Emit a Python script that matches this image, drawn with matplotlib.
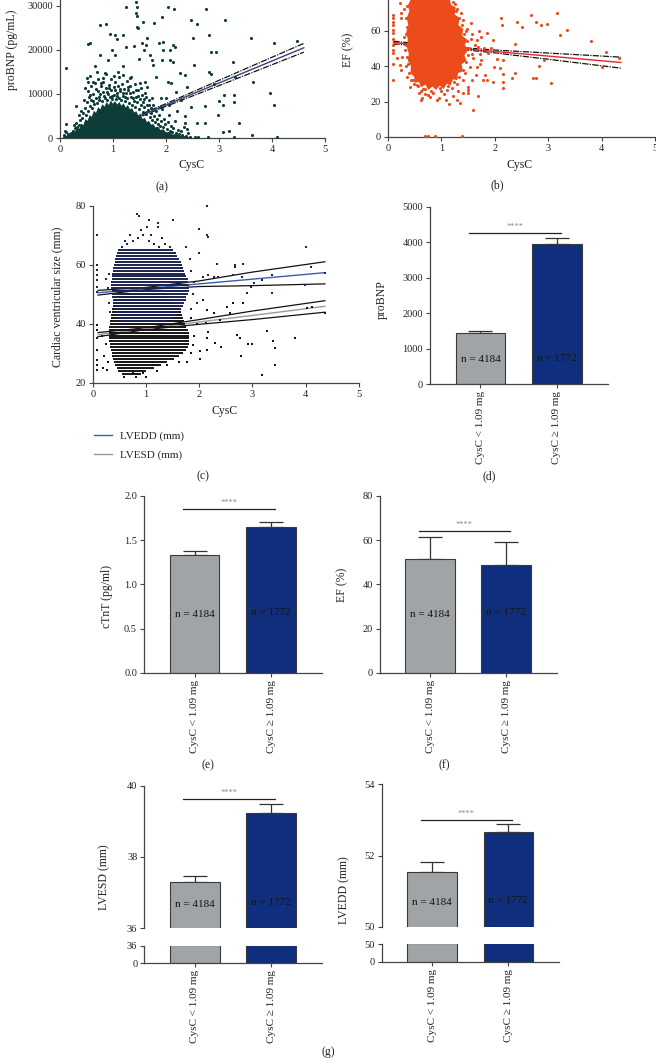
import numpy as np
import matplotlib.pyplot as plt
from matplotlib.lines import Line2D

# ---------------- data ----------------
# (a) proBNP vs CysC : ragged outline of the solid core + scattered points
a_core = [(0.05, 0), (0.08, 700), (0.12, 400), (0.16, 1200), (0.20, 800), (0.24, 1700),
          (0.28, 1300), (0.32, 2400), (0.36, 2000), (0.40, 3300), (0.44, 2900), (0.48, 4300),
          (0.52, 3900), (0.56, 5200), (0.60, 4800), (0.64, 6200), (0.68, 5700), (0.72, 7000),
          (0.76, 6500), (0.80, 7700), (0.84, 7100), (0.88, 8200), (0.92, 7500), (0.96, 8500),
          (1.00, 7800), (1.04, 8400), (1.08, 7600), (1.12, 8200), (1.16, 7300), (1.20, 7900),
          (1.24, 6900), (1.28, 7500), (1.32, 6500), (1.36, 6800), (1.40, 5800), (1.44, 6100),
          (1.48, 5000), (1.52, 5300), (1.56, 4300), (1.60, 4600), (1.64, 3600), (1.68, 3900),
          (1.72, 3000), (1.76, 3200), (1.80, 2400), (1.85, 2600), (1.90, 1800), (1.95, 2000),
          (2.00, 1300), (2.06, 1400), (2.12, 800), (2.20, 900), (2.28, 400), (2.36, 450),
          (2.45, 100), (2.50, 0)]
a_mid = [(0.42, 4500), (0.44, 5600), (0.47, 6900), (0.49, 5300), (0.51, 8100), (0.53, 6200),
         (0.54, 9400), (0.56, 7300), (0.58, 11800), (0.59, 8600), (0.61, 6900), (0.62, 10100),
         (0.64, 7700), (0.66, 12600), (0.67, 9200), (0.69, 8000), (0.71, 10700), (0.72, 13500),
         (0.74, 8600), (0.76, 9900), (0.77, 11900), (0.79, 8300), (0.81, 10400), (0.82, 12800),
         (0.84, 9100), (0.86, 11300), (0.87, 14600), (0.89, 8700), (0.91, 10000), (0.92, 12100),
         (0.94, 9300), (0.96, 13300), (0.97, 10800), (0.99, 8900), (1.01, 11600), (1.02, 9700),
         (1.04, 12700), (1.06, 8800), (1.07, 10300), (1.09, 11900), (1.11, 9200), (1.12, 13800),
         (1.14, 10600), (1.16, 8600), (1.17, 12300), (1.19, 9600), (1.21, 11100), (1.22, 8300),
         (1.24, 10200), (1.26, 12900), (1.27, 9000), (1.29, 10900), (1.31, 8000), (1.32, 11800),
         (1.34, 9300), (1.36, 7600), (1.37, 10500), (1.39, 8500), (1.41, 12200), (1.42, 7000),
         (1.44, 9400), (1.46, 8100), (1.47, 10800), (1.49, 6600), (1.51, 8900), (1.52, 7400),
         (1.54, 9800), (1.56, 6000), (1.57, 8200), (1.59, 7000), (1.61, 10200), (1.62, 5400),
         (1.64, 7600), (1.66, 6300), (1.67, 8700), (1.69, 4800), (1.71, 6800), (1.72, 5600),
         (1.74, 4200), (1.76, 7400), (1.78, 5000), (1.79, 3700), (1.81, 6100), (1.83, 4300),
         (1.85, 3100), (1.87, 5200), (1.88, 2700), (1.90, 3800), (1.92, 6600), (1.94, 2400),
         (1.96, 4400), (1.98, 3100), (2.01, 2000), (2.03, 3600), (2.05, 5300), (2.07, 1700),
         (2.09, 2800), (2.12, 1400), (2.14, 2300), (2.17, 3900), (2.19, 1100), (2.22, 1900),
         (2.25, 800), (2.28, 1500), (2.31, 600), (2.34, 2600), (2.37, 400), (2.42, 1100),
         (2.46, 300), (0.35, 3000), (0.38, 4100), (0.33, 2600), (0.28, 2200), (0.24, 1700),
         (0.20, 1200), (0.45, 8700), (0.52, 10600), (0.57, 9800), (0.63, 8400), (0.68, 11200),
         (0.73, 9400), (0.78, 12400), (0.83, 9600), (0.88, 10500), (0.93, 11400), (0.98, 9500),
         (1.03, 10800), (1.08, 9500), (1.13, 11200), (1.18, 10300), (1.23, 9400), (1.28, 11700),
         (1.33, 10200), (1.38, 9100), (1.43, 10900), (1.48, 9600), (1.53, 11400), (1.58, 8900),
         (1.63, 9300), (1.68, 7500), (1.73, 9000), (1.33, 13600), (1.18, 14400), (1.02, 14000),
         (0.82, 13700), (0.62, 12800), (0.48, 11300), (0.70, 14900), (1.50, 12600), (1.65, 11700),
         (1.90, 9000), (2.05, 7600), (2.20, 6100), (2.35, 5000), (0.40, 6200), (0.36, 5200),
         (0.31, 3400), (0.26, 2900), (0.15, 900), (0.12, 1400), (2.40, 2000), (2.55, 300)]
a_out = [(0.11, 15800), (0.11, 3200), (0.30, 7300), (0.57, 21600), (0.50, 13700), (0.75, 25600),
         (0.86, 26000), (0.94, 23700), (1.04, 23500), (1.08, 22600), (1.18, 23400), (1.25, 29800),
         (1.43, 31000), (1.46, 29800), (1.43, 28300), (1.46, 27700), (1.45, 25300), (1.48, 24900),
         (1.56, 26400), (1.64, 22800), (1.58, 20000), (1.62, 21100), (1.77, 26200), (1.92, 27500),
         (1.94, 21900), (2.03, 29800), (2.15, 29400), (2.08, 20100), (2.17, 20700), (2.14, 17300),
         (1.93, 17700), (1.73, 17700), (2.48, 26800), (2.50, 22800), (2.58, 25800), (2.75, 29300),
         (2.82, 23400), (3.12, 26800), (2.85, 19600), (2.94, 19600), (2.81, 14900), (2.85, 14600),
         (2.53, 16600), (2.36, 14300), (2.39, 11500), (2.29, 8700), (2.03, 12800), (2.47, 7000),
         (2.36, 3400), (2.58, 3500), (2.73, 3500), (2.73, 7200), (2.91, 12200), (2.98, 5300),
         (3.00, 8300), (3.07, 7500), (3.09, 9800), (3.27, 17300), (3.30, 13800), (3.29, 9800),
         (3.29, 8100), (3.38, 3500), (3.19, 1500), (3.07, 1300), (3.60, 22800), (3.64, 12800),
         (3.63, 750), (3.96, 10300), (4.04, 21600), (4.03, 7500), (4.10, 200), (4.47, 22000),
         (3.29, 150), (0.53, 21400), (0.57, 14100), (0.52, 12800), (0.66, 16400), (0.75, 18900),
         (0.85, 14700), (0.91, 17700), (0.98, 20000), (1.03, 18900), (1.09, 15100), (1.18, 16400),
         (1.24, 20700), (1.34, 13900), (1.40, 20900), (1.49, 17900), (1.55, 21500), (1.61, 12800),
         (1.70, 18900), (1.76, 16600), (1.82, 13900), (1.87, 21700), (1.95, 20000), (2.07, 17700),
         (2.13, 21100), (2.10, 12400), (2.26, 14700), (2.19, 10500), (2.00, 9000), (1.88, 7100),
         (2.60, 200), (2.80, 150), (0.08, 700), (0.10, 1500)]
a_fit_x = [0.5, 1.0, 2.0, 3.0, 4.6]
a_fit = [0, 2500, 7500, 12500, 20500]
a_hi = [200, 2700, 7800, 13100, 21500]
a_lo = [-200, 2300, 7200, 11900, 19500]

# (b) EF vs CysC
b_core = [(0.42, 77.2), (0.37, 74), (0.40, 71), (0.35, 67), (0.38, 63), (0.34, 59), (0.37, 55),
          (0.35, 51), (0.39, 47), (0.37, 43), (0.43, 40), (0.42, 36), (0.49, 34), (0.50, 30.5),
          (0.58, 31), (0.62, 28), (0.70, 29.5), (0.76, 26.5), (0.83, 28.5), (0.90, 26.5),
          (0.97, 29), (1.04, 27), (1.10, 30), (1.17, 29), (1.22, 32.5), (1.30, 32), (1.31, 36),
          (1.40, 37), (1.38, 41), (1.47, 43), (1.43, 46), (1.50, 49), (1.44, 52), (1.48, 55),
          (1.39, 57), (1.41, 61), (1.32, 63), (1.34, 67), (1.25, 69), (1.27, 73), (1.18, 74.5),
          (1.16, 77.2)]
b_pts = [(0.09, 68.7), (0.09, 66.9), (0.09, 65), (0.09, 63.1), (0.09, 60.3), (0.09, 58.4),
         (0.09, 55), (0.09, 51.8), (0.09, 49), (0.09, 47.1), (0.09, 41.1), (0.09, 32.1),
         (0.24, 69.7), (0.24, 66.9), (0.19, 52.8), (0.16, 44.3), (0.22, 40.6), (0.34, 40.2),
         (0.44, 32.1), (0.47, 35.9), (0.61, 20.8), (0.69, 26.9), (0.74, 23.7), (0.79, 22.3),
         (0.92, 20.8), (1.11, 26.5), (1.15, 18.6), (1.29, 20.8), (1.34, 19.3), (1.50, 25.0),
         (1.49, 26.5), (1.60, 15.2), (1.68, 23.3), (1.57, 32.1), (1.77, 32.1), (1.85, 32.1),
         (1.82, 34.9), (1.97, 31.2), (2.04, 43.8), (1.99, 39.6), (2.10, 38.7), (2.13, 63.1),
         (2.11, 66.9), (2.15, 35.5), (2.15, 31.2), (2.15, 27.4), (2.16, 43.4), (2.33, 33.4),
         (2.38, 35.9), (2.38, 52.4), (2.41, 65), (2.50, 62.2), (2.68, 68.7), (2.72, 33.4),
         (2.78, 33.4), (2.77, 65), (2.86, 63.1), (2.83, 40.2), (2.93, 43.4), (2.97, 63.7),
         (3.06, 30.2), (3.16, 70), (3.22, 57.5), (3.36, 60.3), (3.81, 54.3), (4.00, 39.6),
         (4.08, 48.1), (4.33, 44.3), (0.69, 0.5), (0.74, 0.5), (0.88, 0.5), (1.39, 0.5),
         (0.22, 75.3), (1.66, 54.6), (1.75, 56.5), (1.69, 50.9), (1.79, 50), (1.85, 58.4),
         (1.97, 54.6), (1.88, 47.1), (1.75, 43.4), (1.66, 39.6), (1.60, 44.3), (1.54, 39.6),
         (1.50, 28.4), (1.41, 32.1), (1.19, 27.4), (0.97, 27.4), (0.85, 29.3), (0.76, 30.2),
         (0.54, 29.3), (0.41, 28.4), (0.35, 34), (0.32, 49), (0.30, 56.5), (0.35, 62.2),
         (0.41, 67.8), (0.54, 73.4), (1.30, 72), (1.40, 66), (1.48, 61), (1.58, 58),
         (1.62, 52), (1.72, 47), (1.45, 36), (1.30, 30), (1.05, 24), (0.85, 25), (0.62, 26),
         (0.30, 72), (0.27, 45), (0.25, 38), (1.25, 75), (1.36, 70), (1.55, 64), (1.70, 60),
         (1.92, 50), (2.02, 48), (1.72, 41), (1.64, 35), (1.40, 25), (0.95, 22), (0.70, 24),
         (0.36, 74), (0.34, 67), (0.33, 58), (0.34, 52), (0.35, 45), (0.38, 41), (0.40, 36),
         (0.46, 32), (0.56, 29), (0.66, 27), (0.81, 26), (0.99, 26), (1.13, 29), (1.24, 31),
         (1.33, 34), (1.40, 38), (1.47, 42), (1.50, 46), (1.52, 50), (1.48, 54), (1.43, 58),
         (1.38, 63), (1.33, 67), (1.28, 71), (1.22, 76), (1.58, 47), (1.55, 55), (1.46, 60),
         (1.32, 26), (0.58, 25), (0.48, 30), (0.63, 22), (1.08, 21), (1.21, 23)]
b_fit_x = [0.1, 1.0, 2.0, 3.0, 4.36]
b_fit = [53.2, 50.8, 48.2, 45.6, 42.0]
b_hi = [54.0, 51.2, 49.0, 47.3, 45.0]
b_lo = [52.4, 50.5, 47.4, 43.8, 38.8]

# (c) ventricular size vs CysC : one row of points per integer mm
edd_y = list(range(41, 66))
edd_x0 = [0.50, 0.46, 0.44, 0.42, 0.41, 0.40, 0.39, 0.38, 0.37, 0.36, 0.36, 0.35, 0.35,
          0.35, 0.36, 0.36, 0.37, 0.38, 0.39, 0.40, 0.41, 0.42, 0.44, 0.45, 0.47]
edd_x1 = [1.40, 1.50, 1.56, 1.62, 1.66, 1.70, 1.72, 1.75, 1.76, 1.78, 1.80, 1.80, 1.80,
          1.79, 1.78, 1.76, 1.74, 1.72, 1.70, 1.68, 1.65, 1.62, 1.58, 1.55, 1.50]
esd_y = list(range(23, 51))
esd_x0 = [0.55, 0.48, 0.45, 0.42, 0.40, 0.38, 0.37, 0.36, 0.34, 0.33, 0.32, 0.31, 0.30, 0.30,
          0.30, 0.30, 0.31, 0.32, 0.33, 0.34, 0.35, 0.36, 0.37, 0.38, 0.40, 0.42, 0.45, 0.50]
esd_x1 = [0.90, 1.00, 1.15, 1.28, 1.40, 1.52, 1.62, 1.70, 1.75, 1.78, 1.80, 1.80, 1.80, 1.80,
          1.80, 1.78, 1.76, 1.74, 1.72, 1.70, 1.68, 1.65, 1.62, 1.58, 1.55, 1.50, 1.45, 1.40]
c_edd_pts = [(0.08, 70.1), (0.08, 59.9), (0.08, 58.2), (0.08, 56.5), (0.08, 54.8), (0.08, 52.5),
             (0.08, 50.8), (0.84, 77.2), (0.86, 76.5), (1.05, 75.1), (1.02, 72.9), (1.23, 74.0),
             (1.50, 75.1), (1.23, 72.9), (0.91, 71.8), (2.00, 72.0), (2.14, 80.0), (2.15, 70.1),
             (2.17, 69.3), (2.00, 64.1), (2.33, 60.1), (2.68, 59.9), (2.82, 60.1), (2.68, 59.1),
             (2.08, 55.9), (2.17, 56.5), (2.27, 55.9), (2.36, 55.9), (2.64, 56.5), (2.80, 55.9),
             (3.02, 53.7), (3.17, 54.8), (3.36, 56.5), (4.01, 66.1), (4.09, 59.1), (4.36, 57.1),
             (3.99, 53.1), (2.89, 50.3), (2.98, 52.5), (3.36, 50.3), (0.55, 66), (0.65, 67),
             (0.75, 68), (0.85, 69), (0.95, 70), (1.05, 68), (1.15, 67), (1.25, 66), (1.35, 67),
             (1.45, 66), (1.55, 64), (0.60, 68), (0.70, 70), (1.10, 70), (1.30, 69), (0.50, 63),
             (1.62, 60), (1.85, 58), (1.90, 54), (1.88, 50), (1.95, 47), (1.83, 62), (0.30, 57),
             (0.28, 52), (0.30, 47), (0.25, 55), (0.33, 44), (1.75, 66), (1.85, 45)]
c_esd_pts = [(0.08, 39.5), (0.08, 37.9), (0.08, 35.0), (0.08, 31.1), (0.08, 27.7), (0.08, 26.0),
             (0.08, 24.3), (0.20, 24.9), (0.26, 24.3), (0.58, 22.0), (0.76, 23.2), (0.95, 23.2),
             (2.02, 30.8), (2.02, 27.9), (1.89, 32.8), (1.77, 27.1), (2.14, 35.0), (2.14, 31.1),
             (2.30, 33.3), (2.41, 32.2), (2.13, 40.1), (2.17, 37.3), (2.39, 41.2), (2.92, 33.1),
             (3.00, 33.1), (2.70, 36.2), (2.77, 35.0), (2.78, 29.0), (3.17, 22.6), (3.27, 37.5),
             (3.38, 34.1), (3.42, 31.6), (3.43, 26.0), (3.80, 35.0), (4.02, 45.2), (4.11, 45.8),
             (4.36, 43.7), (2.14, 44.6), (2.27, 43.5), (2.52, 45.8), (2.64, 46.9), (2.83, 47.1),
             (2.58, 43.5), (2.08, 48.0), (0.25, 33), (0.22, 29), (0.28, 27), (0.18, 36),
             (1.85, 30), (1.90, 36), (1.95, 40), (1.85, 42), (1.62, 27), (1.40, 26), (1.20, 24),
             (1.00, 22), (0.82, 22)]
c_fit_x = [0.1, 1.0, 2.0, 3.0, 4.36]
edd_fit = [50.5, 51.9, 53.5, 55.1, 57.3]
edd_hi = [51.3, 52.3, 54.5, 57.5, 61.0]
edd_lo = [49.7, 51.6, 52.6, 52.9, 53.5]
esd_fit = [36.3, 38.3, 40.6, 42.8, 45.9]
esd_hi = [37.0, 38.6, 41.4, 44.3, 47.8]
esd_lo = [35.6, 38.0, 39.8, 41.4, 43.9]

# bar panels: [CysC < 1.09, CysC >= 1.09]
groups = ['CysC < 1.09 mg', 'CysC \u2265 1.09 mg']
n_labels = ['n = 4184', 'n = 1772']
probnp_mean = [1447, 3940]
probnp_err = [56, 186]
ctnt_mean = [1.331, 1.643]
ctnt_err = [0.045, 0.064]
ef_mean = [51.3, 48.9]
ef_err = [9.9, 10.4]
lvesd_mean = [37.31, 39.24]
lvesd_err = [0.16, 0.25]
lvedd_mean = [51.53, 52.65]
lvedd_err = [0.30, 0.23]

# ---------------- figure ----------------
plt.rcParams['font.family'] = ['Liberation Serif', 'DejaVu Serif']
plt.rcParams['axes.linewidth'] = 0.9
plt.rcParams['axes.edgecolor'] = '#444444'

W, H = 656, 1061
fig = plt.figure(figsize=(W / 100, H / 100), dpi=100)


def box(l, t, r, b):
    return [l / W, 1 - b / H, (r - l) / W, (b - t) / H]


def style(ax):
    for s in ('top', 'right'):
        ax.spines[s].set_visible(False)
    ax.tick_params(direction='out', length=3, width=0.8, colors='#444444',
                   labelcolor='#222222', labelsize=7.5, pad=2)


def txt(x, y, s, **kw):
    kw.setdefault('fontsize', 8.5)
    kw.setdefault('color', '#222222')
    fig.text(x / W, 1 - y / H, s, ha='center', va='center', **kw)


def ci_lines(ax, x, fit, hi, lo, col, ls=(0, (5, 1, 1, 1))):
    ax.plot(x, hi, color='#111111', lw=0.9, ls=ls, zorder=1)
    ax.plot(x, lo, color='#111111', lw=0.9, ls=ls, zorder=1)
    ax.plot(x, fit, color=col, lw=1.0, zorder=1)


# (a)
ax = fig.add_axes(box(60, 0, 325, 138))
style(ax)
core = np.array(a_core)
ax.fill(core[:, 0], core[:, 1], color='#0c3d39', lw=0, zorder=2)
ci_lines(ax, a_fit_x, a_fit, a_hi, a_lo, '#3a4080')
for pts in (a_mid, a_out):
    p = np.array(pts)
    ax.scatter(p[:, 0], p[:, 1], s=5, color='#0c3d39', lw=0, zorder=3, clip_on=False)
ax.set_xlim(0, 5)
ax.set_ylim(0, 31360)
ax.set_xticks(range(6))
ax.set_yticks([0, 10000, 20000, 30000])
txt(12, 50, 'proBNP (pg/mL)', rotation=90)
txt(192, 165, 'CysC')
txt(162, 187, '(a)')

# (b)
ax = fig.add_axes(box(388, 0, 655, 137))
style(ax)
core = np.array(b_core)
ax.fill(core[:, 0], core[:, 1], color='#ee4b1b', lw=0, zorder=2)
ci_lines(ax, b_fit_x, b_fit, b_hi, b_lo, '#e0262e')
p = np.array(b_pts)
ax.scatter(p[:, 0], p[:, 1], s=5, color='#ee4b1b', lw=0, zorder=3, clip_on=False)
ax.set_xlim(0, 5)
ax.set_ylim(0, 77.2)
ax.set_xticks(range(6))
ax.set_yticks([0, 20, 40, 60])
txt(348, 50, 'EF (%)', rotation=90)
txt(520, 165, 'CysC')
txt(497, 185, '(b)')

# (c)
ax = fig.add_axes(box(92.7, 205.7, 359, 382.7))
style(ax)
ax.hlines(esd_y, esd_x0, esd_x1, color='#141414', lw=1.4, zorder=2)
ax.hlines(edd_y, edd_x0, edd_x1, color='#1b2350', lw=1.4, zorder=2)
p = np.array(c_esd_pts)
ax.scatter(p[:, 0], p[:, 1], s=4, marker='s', color='#141414', lw=0, zorder=3, clip_on=False)
p = np.array(c_edd_pts)
ax.scatter(p[:, 0], p[:, 1], s=4, marker='s', color='#1b2350', lw=0, zorder=3, clip_on=False)
ci_lines(ax, c_fit_x, edd_fit, edd_hi, edd_lo, '#3b5cb0', ls='-')
ci_lines(ax, c_fit_x, esd_fit, esd_hi, esd_lo, '#9a9a9a', ls='-')
ax.set_xlim(0, 5)
ax.set_ylim(20, 80)
ax.set_xticks(range(6))
ax.set_yticks([20, 40, 60, 80])
txt(57, 297, 'Cardiac ventricular size (mm)', rotation=90)
txt(225, 411, 'CysC')
handles = [Line2D([], [], color='#3b5cb0', lw=1.0), Line2D([], [], color='#9a9a9a', lw=1.0)]
fig.legend(handles, ['LVEDD (mm)', 'LVESD (mm)'], loc='center left',
           bbox_to_anchor=(88 / W, 1 - 445.5 / H), frameon=False, fontsize=8,
           handlelength=1.7, handletextpad=0.7, labelspacing=0.75, borderpad=0,
           labelcolor='#222222')
txt(203, 476, '(c)')

# ---------------- bar panels ----------------
pos = np.array([0, 1])
BW = 0.65
XL = (-0.66, 1.665)
bar_cols = ['#a1a4a7', '#0f2e7e']


def bars(ax, means, errs, ntxt_y, sig_y):
    ax.bar(pos, means, width=BW, color=bar_cols, edgecolor='#3a3a3a', linewidth=0.8, zorder=2)
    if errs is not None:
        ax.errorbar(pos, means, yerr=[np.zeros(2), errs], fmt='none', ecolor='#333333',
                    elinewidth=0.9, capsize=8.5, capthick=0.9, zorder=1)
    if ntxt_y is not None:
        for xi, (lab, yy) in enumerate(zip(n_labels, ntxt_y)):
            ax.text(xi, yy, lab, ha='center', va='center', fontsize=8, color='#151515', zorder=3)
    if sig_y is not None:
        ax.plot([-0.15, 1.05], [sig_y, sig_y], color='#222222', lw=0.9, clip_on=False)
        ax.annotate('****', (0.45, sig_y), xytext=(0, 1.5), textcoords='offset points',
                    ha='center', va='bottom', fontsize=6, color='#888888')
    ax.set_xlim(*XL)


def xlabels(ax):
    ax.set_xticks(pos)
    ax.set_xticklabels(groups, rotation=90, fontsize=8)


# (d)
ax = fig.add_axes(box(430, 206.7, 607.7, 384))
style(ax)
bars(ax, probnp_mean, probnp_err, [677, 720], 4258)
ax.set_ylim(0, 5000)
ax.set_yticks(range(0, 5001, 1000))
xlabels(ax)
txt(382, 300, 'proBNP', rotation=90)
txt(489, 476, '(d)')

# (e)
ax = fig.add_axes(box(144, 495.7, 322, 673))
style(ax)
bars(ax, ctnt_mean, ctnt_err, [0.665, 0.68], 1.846)
ax.set_ylim(0, 2)
ax.set_yticks([0, 0.5, 1.0, 1.5, 2.0])
ax.set_yticklabels(['0.0', '0.5', '1.0', '1.5', '2.0'])
xlabels(ax)
txt(107, 597, 'cTnT (pg/ml)', rotation=90)
txt(208, 765, '(e)')

# (f)
ax = fig.add_axes(box(380, 495.7, 556.7, 673))
style(ax)
bars(ax, ef_mean, ef_err, [26.2, 27.2], 64.2)
ax.set_ylim(0, 80)
ax.set_yticks(range(0, 81, 20))
xlabels(ax)
txt(342, 585, 'EF (%)', rotation=90)
txt(444, 765, '(f)')


# (g) broken-axis panels
def broken(l, r, t_up, b_up, t_lo, b_lo, means, errs, lo_y, hi_y, ticks, ntxt_y, sig_y):
    up = fig.add_axes(box(l, t_up, r, b_up))
    style(up)
    up.spines['bottom'].set_visible(False)
    up.tick_params(axis='x', bottom=False, labelbottom=False)
    bars(up, means, errs, ntxt_y, sig_y)
    up.set_ylim(lo_y, hi_y)
    up.set_yticks(ticks)
    dn = fig.add_axes(box(l, t_lo, r, b_lo))
    style(dn)
    bars(dn, means, None, None, None)
    dn.set_ylim(0, lo_y)
    dn.set_yticks([0, lo_y])
    xlabels(dn)
    return up


broken(144.3, 322, 785.7, 928.3, 945.7, 963.3, lvesd_mean, lvesd_err, 36, 40,
       [36, 38, 40], [36.67, 36.72], 39.62)
txt(104, 877, 'LVESD (mm)', rotation=90)
broken(381.7, 559, 784.3, 926.7, 944, 961.7, lvedd_mean, lvedd_err, 50, 54,
       [50, 52, 54], [50.68, 50.73], 53.0)
txt(344, 890, 'LVEDD (mm)', rotation=90)
txt(328, 1052, '(g)')

fig.savefig('out.png', dpi=100)
